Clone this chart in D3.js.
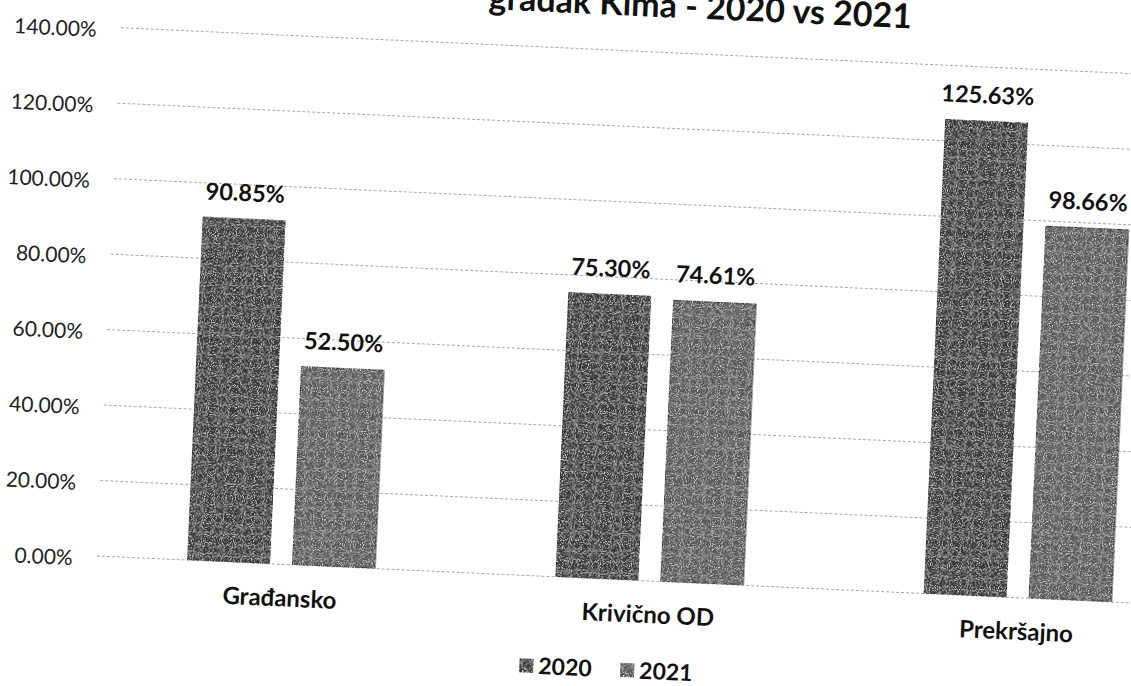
<!DOCTYPE html>
<html>
<head>
<meta charset="utf-8">
<script src="https://cdn.jsdelivr.net/npm/d3@7"></script>
<style>
  html, body { margin: 0; padding: 0; background: #fff; overflow: hidden; }
  svg { display: block; font-family: Lato, "Open Sans", sans-serif; }
</style>
</head>
<body>
<svg id="chart" width="1131" height="686"></svg>
<script>
const titleText = "gradak Kima - 2020 vs 2021";
const categories = ["Građansko", "Krivično OD", "Prekršajno"];
const seriesNames = ["2020", "2021"];
const values2020 = [90.85, 75.30, 125.63];
const values2021 = [52.50, 74.61, 98.66];
const yTicks = [0, 20, 40, 60, 80, 100, 120, 140];

const seriesValues = [values2020, values2021];
const colors = ["#383838", "#585858"];

const svg = d3.select("#chart");

// light grain to mimic the scanned halftone texture
const defs = svg.append("defs");
const f = defs.append("filter").attr("id", "grain")
  .attr("x", 0).attr("y", 0).attr("width", 1).attr("height", 1);
f.append("feTurbulence").attr("type", "fractalNoise").attr("baseFrequency", 0.9)
  .attr("numOctaves", 1).attr("seed", 3).attr("result", "noise");
f.append("feColorMatrix").attr("in", "noise").attr("type", "matrix")
  .attr("values", "0 0 0 0 1  0 0 0 0 1  0 0 0 0 1  0 0 0 -3 1.45").attr("result", "spots");
f.append("feComposite").attr("in", "spots").attr("in2", "SourceGraphic")
  .attr("operator", "in").attr("result", "spotsIn");
f.append("feMerge").call(m => {
  m.append("feMergeNode").attr("in", "SourceGraphic");
  m.append("feMergeNode").attr("in", "spotsIn");
});

const g = svg.append("g").attr("transform", "rotate(2.6)");

const x0 = d3.scaleBand().domain(categories).range([122, 1228])
  .paddingInner(0.49).paddingOuter(0.245);
const x1 = d3.scaleBand().domain(seriesNames).range([0, x0.bandwidth()])
  .paddingInner(0.21).paddingOuter(0);
const y = d3.scaleLinear().domain([0, 140]).range([551, 551 - 140 * 3.777]);

// gridlines
g.append("g").selectAll("line").data(yTicks).join("line")
  .attr("x1", 122).attr("x2", 1260)
  .attr("y1", d => y(d)).attr("y2", d => y(d))
  .attr("stroke", "#a8a8a8").attr("stroke-width", 1)
  .attr("stroke-dasharray", "3,2");

// y axis labels
const yAxis = d3.axisLeft(y).tickValues(yTicks).tickSize(0).tickPadding(0)
  .tickFormat(d => d3.format(".2f")(d) + "%");
const ya = g.append("g").attr("transform", "translate(98,3)").call(yAxis);
ya.select(".domain").remove();
ya.selectAll("text").attr("font-size", "21px").attr("fill", "#222")
  .attr("font-family", "Lato, sans-serif");

// bars
const groups = g.append("g").selectAll("g").data(categories).join("g")
  .attr("transform", c => `translate(${x0(c)},0)`);
groups.selectAll("rect")
  .data((c, i) => seriesNames.map((s, j) => ({ s, j, v: seriesValues[j][i] })))
  .join("rect")
  .attr("x", d => x1(d.s)).attr("width", x1.bandwidth())
  .attr("y", d => y(d.v)).attr("height", d => y(0) - y(d.v))
  .attr("fill", d => colors[d.j]).attr("stroke", "#222").attr("stroke-width", 1)
  .attr("filter", "url(#grain)");
groups.selectAll("text.val")
  .data((c, i) => seriesNames.map((s, j) => ({ s, j, v: seriesValues[j][i] })))
  .join("text").attr("class", "val")
  .attr("x", d => x1(d.s) + x1.bandwidth() / 2)
  .attr("y", d => y(d.v) - 18)
  .attr("text-anchor", "middle").attr("font-weight", "bold")
  .attr("font-size", "23.5px").attr("fill", "#111")
  .text(d => d.v.toFixed(2) + "%");

// category labels
const xAxis = d3.axisBottom(x0).tickSize(0).tickPadding(0);
const xa = g.append("g").attr("transform", "translate(0,593)").call(xAxis);
xa.select(".domain").remove();
xa.selectAll("text").attr("font-size", "24px").attr("font-weight", "bold")
  .attr("fill", "#111").attr("font-family", "Lato, sans-serif").attr("dy", 0);

// legend
const legendX = [549, 650];
const lg = g.append("g").selectAll("g").data(seriesNames).join("g")
  .attr("transform", (d, i) => `translate(${legendX[i]},641)`);
lg.append("rect").attr("x", 0).attr("y", -7).attr("width", 14).attr("height", 14)
  .attr("fill", (d, i) => colors[i]).attr("filter", "url(#grain)");
lg.append("text").attr("x", 19).attr("y", 8).attr("font-size", "23px")
  .attr("font-weight", "bold").attr("fill", "#111").text(d => d);

// title
g.append("text").attr("x", 700).attr("y", -13).attr("text-anchor", "middle")
  .attr("font-size", "34px").attr("font-weight", "bold").attr("fill", "#111")
  .text(titleText);
</script>
</body>
</html>
